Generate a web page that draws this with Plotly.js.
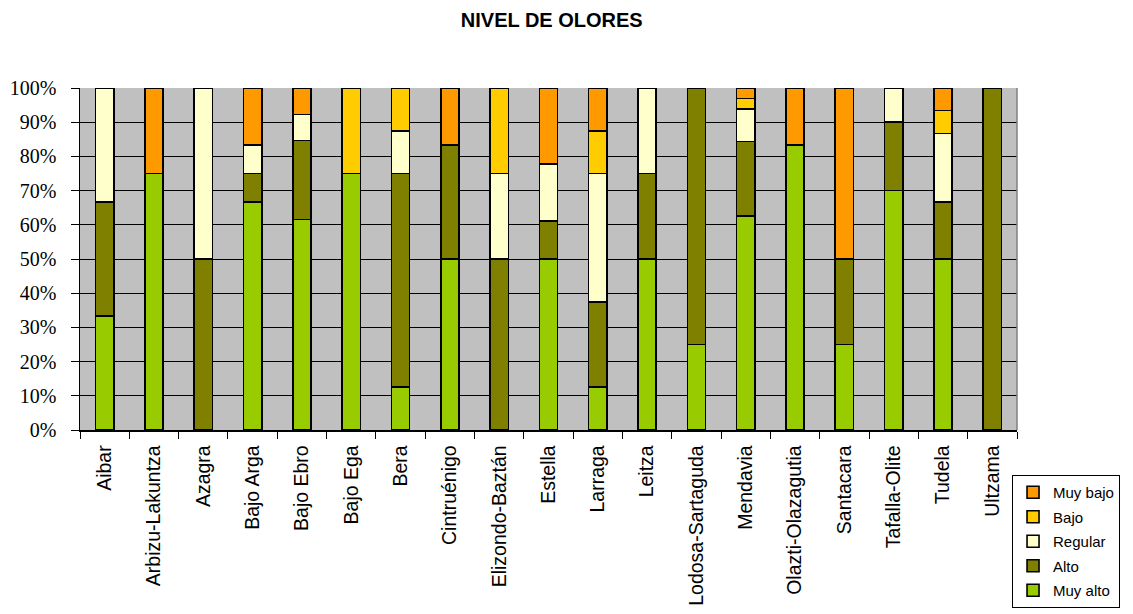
<!DOCTYPE html>
<html>
<head>
<meta charset="utf-8">
<script src="https://cdn.plot.ly/plotly-3.0.1.min.js"></script>
<style>html,body{margin:0;padding:0;background:#fff;}#chart{width:1133px;height:614px;}</style>
</head>
<body>
<div id="chart"></div>
<script>
const categories = ["Aibar","Arbizu-Lakuntza","Azagra","Bajo Arga","Bajo Ebro","Bajo Ega","Bera","Cintruénigo","Elizondo-Baztán","Estella","Larraga","Leitza","Lodosa-Sartaguda","Mendavia","Olazti-Olazagutia","Santacara","Tafalla-Olite","Tudela","Ultzama"];
const muyAlto = [33.3,75,0,66.7,61.5,75,12.5,50,0,50,12.5,50,25,62.5,83.3,25,70,50,0];
const alto    = [33.3,0,50,8.3,23.1,0,62.5,33.3,50,11.1,25,25,75,21.9,0,25,20,16.7,100];
const regular = [33.4,0,50,8.3,7.7,0,12.5,0,25,16.7,37.5,25,0,9.4,0,0,10,20,0];
const bajo    = [0,0,0,0,0,25,12.5,0,25,0,12.5,0,0,3.1,0,0,0,6.7,0];
const muyBajo = [0,25,0,16.7,7.7,0,0,16.7,0,22.2,12.5,0,0,3.1,16.7,50,0,6.6,0];
const seriesNames = ["Muy alto","Alto","Regular","Bajo","Muy bajo"];
const seriesColors = ["#99CC00","#808000","#FFFFCC","#FFCC00","#FF9900"];
const yTicks = [0,10,20,30,40,50,60,70,80,90,100];
const yTickText = yTicks.map(v => v + "%");

const allSeries = [muyAlto, alto, regular, bajo, muyBajo];
const traces = allSeries.map((vals, i) => ({
  type: 'bar',
  x: categories,
  y: vals,
  name: seriesNames[i],
  legendgroup: 'g' + i,
  legendrank: allSeries.length - i,
  marker: {color: seriesColors[i], line: {color: '#000', width: 1.6}},
  hoverinfo: 'x+y+name'
}));

const layout = {
  width: 1133, height: 614,
  barmode: 'stack',
  bargap: 0.63,
  paper_bgcolor: '#fff',
  plot_bgcolor: '#C0C0C0',
  margin: {l: 80, r: 116, t: 88, b: 184, autoexpand: false},
  title: {text: '<b>NIVEL DE OLORES</b>', font: {family: 'Liberation Sans, Arial, sans-serif', size: 20, color: '#000'}, x: 0.487, xanchor: 'center', y: 0.968, yanchor: 'middle'},
  xaxis: {
    type: 'category',
    tickangle: -90,
    tickfont: {family: 'Liberation Sans, Arial, sans-serif', size: 19.5, color: '#000'},
    ticks: 'outside', tickson: 'boundaries', ticklen: 7, tickcolor: '#000',
    ticklabelstandoff: 6,
    showline: true, linecolor: '#000', linewidth: 1.5,
    showgrid: false, automargin: false
  },
  yaxis: {
    range: [0, 100],
    tickvals: yTicks, ticktext: yTickText,
    tickfont: {family: 'Liberation Serif, Times New Roman, serif', size: 20, color: '#000'},
    ticks: 'outside', ticklen: 8, tickcolor: '#000',
    ticklabelstandoff: 10,
    showline: true, linecolor: '#000', linewidth: 1.5,
    showgrid: true, gridcolor: '#000', gridwidth: 1,
    zeroline: false, automargin: false
  },
  shapes: [{type: 'line', xref: 'paper', yref: 'paper', x0: 1, x1: 1, y0: 0, y1: 1, line: {color: '#808080', width: 1.5}}],
  showlegend: true,
  legend: {
    x: 0.9947, y: -0.1316, xanchor: 'left', yanchor: 'top',
    traceorder: 'grouped', tracegroupgap: 2,
    bordercolor: '#000', borderwidth: 1, bgcolor: '#fff',
    font: {family: 'Liberation Sans, Arial, sans-serif', size: 15, color: '#000'}
  }
};

Plotly.newPlot('chart', traces, layout, {displayModeBar: false, staticPlot: true});
</script>
</body>
</html>
